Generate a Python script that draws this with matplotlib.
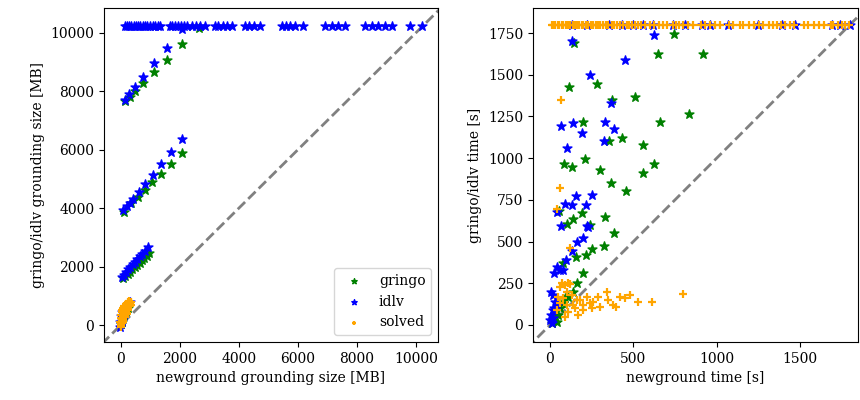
import matplotlib
matplotlib.use('Agg')
import matplotlib.pyplot as plt

plt.rcParams['font.family'] = ['DejaVu Serif']
plt.rcParams['font.size'] = 10

# ---- left panel: grounding size [MB] ----
size_gringo_x = [136, 305, 475, 756, 1119, 1549, 2057, 2644,
                 102, 362, 586, 814, 1061, 1366, 1695, 2078,
                 68, 145, 235, 305, 395, 470, 545, 640, 705, 795, 880, 960,
                 10, 40, 80, 120, 170, 230]
size_gringo_y = [7682, 7819, 8024, 8298, 8664, 9075, 9613, 10161,
                 3880, 4168, 4373, 4623, 4897, 5171, 5514, 5890,
                 1599, 1675, 1760, 1825, 1910, 1980, 2065, 2140, 2210, 2295, 2370, 2455,
                 30, 120, 240, 360, 480, 600]

size_idlv_x = [136, 200, 280, 350, 430, 500, 580, 650, 740, 820, 900, 1000, 1080, 1170, 1250, 1322,
               1661, 1750, 1850, 1950, 2050, 2150, 2250, 2400, 2550, 2700, 2847,
               3186, 3300, 3450, 3600, 3763, 4203, 4350, 4500, 4712,
               5458, 5600, 5750, 5898, 6170, 6915, 7150, 7350, 7593,
               8271, 8500, 8700, 8950, 9186, 9797, 10203,
               136, 282, 475, 756, 1119, 1549, 2057,
               78, 193, 305, 417, 600, 824, 1075, 1366, 1695, 2078,
               24, 95, 165, 255, 325, 405, 480, 555, 645, 720, 805, 905,
               -20, 0, 30, 60, 100, 140, 180, 220, 260, 300, -40, 10, 50]
size_idlv_y = [10240] * 52 + [7705, 7900, 8140, 8503, 8962, 9476, 10127,
               3938, 4075, 4188, 4325, 4555, 4829, 5147, 5514, 5914, 6370,
               1654, 1725, 1815, 1910, 1995, 2085, 2170, 2265, 2350, 2445, 2535, 2682,
               -80, 50, 150, 260, 380, 470, 560, 650, 720, 800, 100, 300, 450]

size_solved_x = [0, 10, 20, 40, 60, 80, 100, 130, 160, 190, 220, 250, 280, 320, 340,
                 15, 50, 90, 140, 200, 260, 300, 30, 110, 170, 230,
                 -30, -10, 5, 25, 45, 70, 120, 180, 240, 290, 330, 70, 150, 210]
size_solved_y = [-60, 20, 100, 150, 220, 280, 330, 400, 450, 520, 580, 630, 700, 760, 800,
                 -20, 60, 160, 260, 380, 520, 640, 200, 420, 560, 700,
                 100, 250, 350, 450, 520, 600, 650, 720, 780, 820, 700, 100, 300, 420]

# ---- right panel: time [s] ----
time_gringo_x = [198, 354, 434, 556, 662, 84, 134, 210, 298, 366, 454, 558, 624, 194, 140, 100, 332, 238, 56,
                 146, 746, 648, 916, 284, 116, 370, 510, 832,
                 386, 326, 250, 214, 154, 80, 200, 160, 140, 60,
                 10, 20, 30, 40, 50, 70, 90, 110, 30]
time_gringo_y = [1216, 1102, 1119, 1078, 1214, 965, 948, 992, 926, 849, 805, 913, 963, 671, 633, 605, 645, 597, 685,
                 1688, 1745, 1624, 1622, 1444, 1424, 1348, 1368, 1264,
                 553, 473, 453, 419, 409, 373, 309, 250, 200, 100,
                 10, 30, 50, 20, 60, 130, 160, 170, 90]

time_idlv_x = [64, 140, 194, 332, 386, 324, 100, 220, 66, 44, 90, 134, 154, 252, 214,
               134, 624, 452, 238, 368,
               226, 164, 196, 132, 96, 40, 60, 24, 80, 16, 30, 20, 0, 10, 5, 15, 25, 40, 8,
               130, 224, 354, 430, 500, 556, 620, 740, 810, 910, 960, 1070, 1250, 1390, 1470, 1690, 1740, 1800]
time_idlv_y = [1194, 1208, 1148, 1218, 1176, 1102, 1059, 591, 595, 675, 723, 717, 773, 777, 721,
               1702, 1736, 1586, 1498, 1332,
               589, 499, 519, 443, 389, 349, 330, 313, 330, 180, 140, 40, 30, 10, 60, 90, 100, 120, 200,
               1800, 1800, 1800, 1800, 1800, 1800, 1800, 1800, 1800, 1800, 1800, 1800, 1800, 1800, 1800, 1800, 1800, 1800]

time_solved_x = [60, 44, 64, 120, 70, 110, 60, 90, 120, 340, 420, 480, 530, 614, 796, 396, 286, 240, 200,
                 160, 110, 300, 180, 150, 130, 100, 80, 60, 140, 200, 250, 350, 380, 450, 260, 220, 170,
                 90, 100, 50, 40,
                 10, 20, 30, 45, 55, 70, 80, 95, 110, 120, 135, 150, 160, 175, 190, 200, 215, 230, 245,
                 260, 275, 290, 300, 320, 335, 350, 370, 385, 400, 420, 440, 460, 475, 490, 510, 530,
                 545, 570, 600, 625, 655, 680, 700, 735, 755, 775, 800, 830, 860, 905, 930, 960, 990,
                 1020, 1075, 1100, 1140, 1160, 1195, 1225, 1255, 1280, 1315, 1340, 1360, 1385, 1410,
                 1440, 1465, 1525, 1550, 1585, 1615, 1645, 1685, 1700, 1725, 1750, 1770, 1795]
time_solved_y = [821, 693, 1348, 460, 250, 254, 228, 240, 245, 196, 170, 180, 136, 140, 186, 106, 165, 130, 90,
                 150, 80, 110, 150, 100, 180, 200, 160, 130, 120, 120, 100, 150, 120, 160, 140, 170, 60,
                 50, 120, 170, 90] + [1800] * 80

green = 'green'
blue = 'blue'
orange = 'orange'

fig = plt.figure(figsize=(8.6, 4.0), dpi=100)
ax1 = fig.add_axes([104 / 860, 58 / 400, 334 / 860, 334 / 400])
ax2 = fig.add_axes([533 / 860, 58 / 400, 325 / 860, 334 / 400])

star = dict(marker='*', s=45)
plus = dict(marker='+', s=35, linewidths=1.6)

# left: grounding size
ax1.plot([-1000, 12000], [-1000, 12000], ls='--', color='gray', lw=2, zorder=1)
ax1.scatter(size_gringo_x, size_gringo_y, color=green, label='gringo', zorder=2, **star)
ax1.scatter(size_idlv_x, size_idlv_y, color=blue, label='idlv', zorder=3, **star)
ax1.scatter(size_solved_x, size_solved_y, color=orange, label='solved', zorder=4, **plus)
ax1.set_xlim(-570, 10750)
ax1.set_ylim(-580, 10850)
ax1.set_xticks(range(0, 10001, 2000))
ax1.set_yticks(range(0, 10001, 2000))
ax1.set_xlabel('newground grounding size [MB]')
ax1.set_ylabel('gringo/idlv grounding size [MB]')
ax1.legend(loc='lower right', markerscale=0.6)

# right: time
ax2.plot([-200, 2000], [-200, 2000], ls='--', color='gray', lw=2, zorder=1)
ax2.scatter(time_gringo_x, time_gringo_y, color=green, zorder=2, **star)
ax2.scatter(time_idlv_x, time_idlv_y, color=blue, zorder=3, **star)
ax2.scatter(time_solved_x, time_solved_y, color=orange, zorder=4, **plus)
ax2.set_xlim(-102, 1848)
ax2.set_ylim(-102, 1900)
ax2.set_xticks([0, 500, 1000, 1500])
ax2.set_yticks(range(0, 1751, 250))
ax2.set_xlabel('newground time [s]')
ax2.set_ylabel('gringo/idlv time [s]')

fig.savefig('out.png', dpi=100)
